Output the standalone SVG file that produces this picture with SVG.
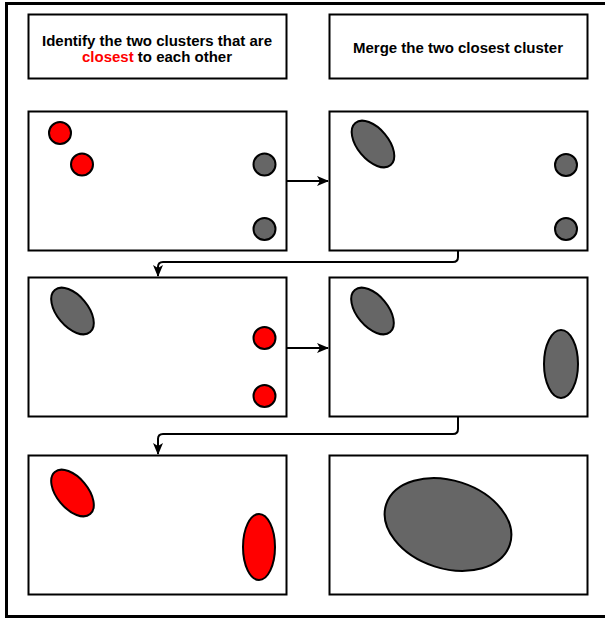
<svg xmlns="http://www.w3.org/2000/svg" width="605" height="620" viewBox="0 0 605 620">
<defs>
<style>
.frame{fill:#fff;stroke:#000;stroke-width:3}
.box{fill:#fff;stroke:#000;stroke-width:2}
.g{fill:#666;stroke:#000;stroke-width:2}
.r{fill:#f00;stroke:#000;stroke-width:2}
.t{font-family:"Liberation Sans",Arial,sans-serif;font-size:15px;font-weight:bold;fill:#000;text-anchor:middle}
.c{fill:none;stroke:#000;stroke-width:2}
</style>
<marker id="ah" viewBox="0 0 12 10" refX="11" refY="5" markerWidth="12" markerHeight="10" orient="auto" markerUnits="userSpaceOnUse">
<path d="M0,0 L12,5 L0,10 L3,5 Z" fill="#000"/>
</marker>
</defs>
<rect class="frame" x="6.5" y="3.5" width="610" height="613"/>
<g id="header-left"><rect class="box" x="28.5" y="14.5" width="258" height="64"/>
<text class="t" x="157" y="46">Identify the two clusters that are</text>
<text class="t" x="157" y="62"><tspan fill="#f00">closest</tspan> to each other</text></g>
<g id="header-right"><rect class="box" x="329.5" y="14.5" width="258" height="64"/>
<text class="t" x="458" y="53">Merge the two closest cluster</text></g>

<g id="r1-left"><rect class="box" x="28.5" y="111.5" width="258" height="139"/>
<circle class="r" cx="60" cy="133" r="11"/><circle class="r" cx="82" cy="164.5" r="11"/>
<circle class="g" cx="264.5" cy="164.5" r="11"/><circle class="g" cx="264.5" cy="229" r="11"/></g>
<g id="r1-right"><rect class="box" x="329.5" y="111.5" width="258" height="139"/>
<ellipse class="g" cx="373" cy="144" rx="27.5" ry="15.5" transform="rotate(50 373 144)"/>
<circle class="g" cx="566" cy="165" r="11"/><circle class="g" cx="566" cy="229" r="11"/></g>

<g id="r2-left"><rect class="box" x="28.5" y="277.5" width="258" height="139"/>
<ellipse class="g" cx="72.5" cy="311" rx="27.5" ry="15.5" transform="rotate(50 72.5 311)"/>
<circle class="r" cx="264.5" cy="338" r="11"/><circle class="r" cx="264.5" cy="396" r="11"/></g>
<g id="r2-right"><rect class="box" x="329.5" y="277.5" width="258" height="139"/>
<ellipse class="g" cx="372.5" cy="311" rx="27.5" ry="15.5" transform="rotate(50 372.5 311)"/>
<ellipse class="g" cx="561" cy="364" rx="17" ry="34"/></g>

<g id="r3-left"><rect class="box" x="28.5" y="455.5" width="258" height="139"/>
<ellipse class="r" cx="72.5" cy="493" rx="27.5" ry="15.5" transform="rotate(50 72.5 493)"/>
<ellipse class="r" cx="259" cy="547" rx="16" ry="33"/></g>
<g id="r3-right"><rect class="box" x="329.5" y="455.5" width="258" height="139"/>
<ellipse class="g" cx="448" cy="524.5" rx="65" ry="44" transform="rotate(18 448 524.5)"/></g>

<g id="connectors">
<path class="c" d="M287,181 H328" marker-end="url(#ah)"/>
<path class="c" d="M287,348 H328" marker-end="url(#ah)"/>
<path class="c" d="M458,251 V257 Q458,262 453,262 H163 Q158,262 158,267 V276" marker-end="url(#ah)"/>
<path class="c" d="M458,417 V429 Q458,434 453,434 H163 Q158,434 158,439 V454" marker-end="url(#ah)"/>
</g>
</svg>
